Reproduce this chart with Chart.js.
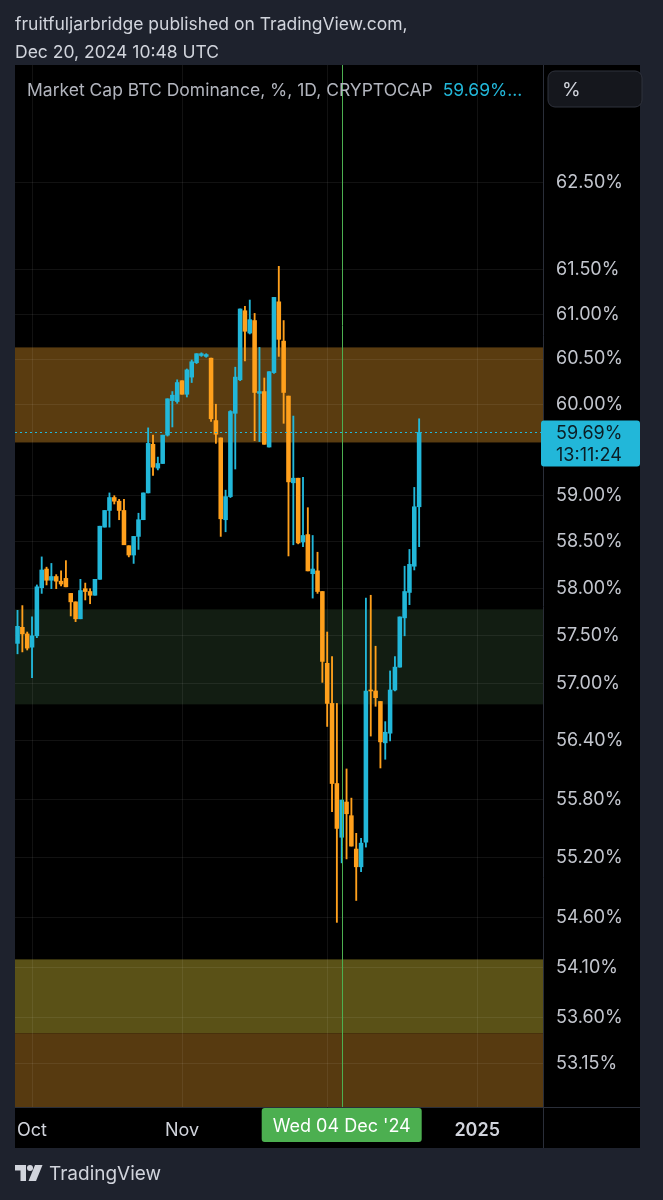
<!DOCTYPE html>
<html>
<head>
<meta charset="utf-8">
<script src="https://cdn.jsdelivr.net/npm/chart.js@4.4.1/dist/chart.umd.min.js"></script>
<style>
html,body{margin:0;padding:0;background:#1e222d;width:663px;height:1200px;overflow:hidden;}
#wrap{position:relative;width:663px;height:1200px;font-family:Inter,'Noto Sans',sans-serif;}
canvas{position:absolute;left:0;top:0;}
.hdr{position:absolute;left:15px;color:#d1d4dc;font-size:17.5px;line-height:22px;white-space:nowrap;z-index:2;}
#foot{position:absolute;left:15px;top:1161px;height:24px;display:flex;align-items:center;color:#d1d4dc;font-size:19px;z-index:2;}
#foot svg{margin-right:6px;}
</style>
</head>
<body>
<div id="wrap">
<div class="hdr" style="top:13px">fruitfuljarbridge published on TradingView.com,</div>
<div class="hdr" style="top:41px">Dec 20, 2024 10:48 UTC</div>
<canvas id="c" width="663" height="1200"></canvas>
<div id="foot"><svg width="28" height="16" viewBox="0 0 28 16"><path d="M0 0h11v16h-5.5v-10.5h-5.5z" fill="#d1d4dc"/><circle cx="15" cy="3" r="3" fill="#d1d4dc"/><path d="M20 0h7.5l-6.5 16h-7.5z" fill="#d1d4dc"/></svg><span>TradingView</span></div>
</div>
<script>
// ---- data ----
const dates = [
'2024-09-28','2024-09-29','2024-09-30',
'2024-10-01','2024-10-02','2024-10-03','2024-10-04','2024-10-05','2024-10-06','2024-10-07','2024-10-08','2024-10-09','2024-10-10',
'2024-10-11','2024-10-12','2024-10-13','2024-10-14','2024-10-15','2024-10-16','2024-10-17','2024-10-18','2024-10-19','2024-10-20',
'2024-10-21','2024-10-22','2024-10-23','2024-10-24','2024-10-25','2024-10-26','2024-10-27','2024-10-28','2024-10-29','2024-10-30','2024-10-31',
'2024-11-01','2024-11-02','2024-11-03','2024-11-04','2024-11-05','2024-11-06','2024-11-07','2024-11-08','2024-11-09','2024-11-10',
'2024-11-11','2024-11-12','2024-11-13','2024-11-14','2024-11-15','2024-11-16','2024-11-17','2024-11-18','2024-11-19','2024-11-20',
'2024-11-21','2024-11-22','2024-11-23','2024-11-24','2024-11-25','2024-11-26','2024-11-27','2024-11-28','2024-11-29','2024-11-30',
'2024-12-01','2024-12-02','2024-12-03','2024-12-04','2024-12-05','2024-12-06','2024-12-07','2024-12-08','2024-12-09','2024-12-10',
'2024-12-11','2024-12-12','2024-12-13','2024-12-14','2024-12-15','2024-12-16','2024-12-17','2024-12-18','2024-12-19','2024-12-20'];

const opens = [57.42,57.59,57.52,57.38,57.50,58.01,58.21,58.09,58.13,58.08,58.11,57.95,57.86,57.68,58.00,57.97,57.93,58.10,58.66,58.84,
58.98,58.94,58.84,58.46,58.36,58.56,58.74,59.03,59.56,59.30,59.35,59.66,60.04,60.03,60.26,60.11,60.30,60.46,60.54,60.53,
60.51,59.82,59.63,58.74,58.99,59.90,60.27,61.04,60.79,60.93,60.12,60.14,59.53,60.35,61.14,60.70,60.09,59.14,59.19,58.50,
58.58,58.16,58.19,57.97,57.21,56.79,55.96,55.41,55.77,55.63,55.29,55.11,55.36,56.93,56.92,56.81,56.38,56.48,56.93,57.17,
57.69,57.96,58.24,58.88];
const highs = [57.77,57.82,57.54,57.70,58.04,58.34,58.23,58.27,58.15,58.19,58.30,57.95,57.86,58.10,58.06,58.00,58.10,58.67,58.84,59.03,
59.00,58.96,58.96,58.46,58.56,58.81,59.03,59.74,59.66,59.42,59.66,60.06,60.14,60.27,60.26,60.39,60.49,60.56,60.57,60.56,
60.51,60.00,59.63,59.06,59.93,60.41,61.06,61.09,61.16,61.01,60.63,60.29,60.36,61.19,61.54,60.93,60.09,59.87,59.19,59.20,
58.87,58.57,58.39,57.97,57.54,57.28,56.79,55.79,56.11,55.81,55.45,55.40,57.90,57.93,57.39,56.81,56.60,57.13,57.28,57.70,
58.24,58.42,59.09,59.84];
const lows = [57.31,57.33,57.35,57.06,57.48,57.95,58.04,58.00,58.00,58.03,58.02,57.71,57.65,57.68,57.88,57.84,57.93,58.10,58.66,58.66,
58.91,58.74,58.47,58.34,58.27,58.42,58.74,59.03,59.22,59.28,59.35,59.65,59.75,60.01,60.11,60.08,60.24,60.45,60.53,60.52,
59.81,59.57,58.56,58.61,58.98,59.29,60.26,60.48,60.78,59.60,59.59,59.56,59.53,60.34,60.53,59.79,58.35,58.47,58.48,58.45,
58.19,57.90,57.95,57.01,56.55,55.67,54.55,55.15,55.19,55.32,54.77,55.06,55.31,56.45,56.76,56.12,56.21,56.40,56.92,57.17,
57.50,57.83,58.20,58.45];
const closes = [57.60,57.52,57.37,57.50,58.02,58.20,58.09,58.13,58.08,58.05,58.02,57.86,57.68,57.98,57.97,57.93,58.10,58.67,58.84,58.98,
58.94,58.84,58.47,58.36,58.56,58.74,59.03,59.57,59.31,59.35,59.66,60.06,60.10,60.24,60.11,60.38,60.47,60.56,60.56,60.55,
59.84,59.67,58.75,58.99,59.92,60.30,61.06,60.81,60.94,60.13,60.14,59.56,60.36,61.19,60.72,60.13,59.15,59.19,58.49,58.57,
58.19,58.21,57.97,57.23,56.79,55.96,55.50,55.79,55.65,55.32,55.11,55.35,56.92,56.92,56.85,56.39,56.49,56.93,57.17,57.70,
57.97,58.26,58.88,59.69];

const yTicks = [62.5,61.5,61,60.5,60,59,58.5,58,57.5,57,56.4,55.8,55.2,54.6,54.1,53.6,53.15];
const xTickDates = ['2024-10-01','2024-11-01','2024-12-01','2025-01-01'];
const xTickLabels = ['Oct','Nov','Dec','2025'];
const zoneTops = [60.63,57.78,54.18,53.45];
const zoneBottoms = [59.58,56.78,53.45,52.0];
const crosshairDate = '2024-12-04';
const crosshairLabel = "Wed 04 Dec '24";
const seriesTitle = 'Market Cap BTC Dominance, %, 1D, CRYPTOCAP';
const countdown = '13:11:24';

// ---- styles ----
const UP = '#22b7d9', DOWN = '#ffa01c';
const zoneColors = ['#5a3c10','#121d12','#5a5117','#573a10'];
const FONT = "Inter, 'Noto Sans', sans-serif";

const DAY = 86400000;
const t0 = Date.parse(dates[0]);
const dayIdx = d => (Date.parse(d) - t0) / DAY;
const xs = dates.map(dayIdx);
const tickXs = xTickDates.map(dayIdx);

const colors = closes.map((c,i) => c >= opens[i] ? UP : DOWN);
const lastClose = closes[closes.length-1];

const deco = {
  id: 'deco',
  beforeDraw(chart) {
    const {ctx, chartArea: a, scales: {y}} = chart;
    ctx.save();
    ctx.fillStyle = '#000';
    ctx.fillRect(a.left, a.top, (a.right + y.width) - a.left, (a.bottom + chart.scales.x.height) - a.top);
    ctx.beginPath();
    ctx.rect(a.left, a.top, a.right - a.left, a.bottom - a.top);
    ctx.clip();
    zoneTops.forEach((t, i) => {
      const y1 = y.getPixelForValue(t), y2 = y.getPixelForValue(zoneBottoms[i]);
      ctx.fillStyle = zoneColors[i];
      ctx.fillRect(a.left, y1, a.right - a.left, y2 - y1);
    });
    ctx.restore();
  },
  afterDatasetsDraw(chart) {
    const {ctx, chartArea: a, scales: {x, y}} = chart;
    ctx.save();
    const py = Math.round(y.getPixelForValue(lastClose)) + 0.5;
    ctx.strokeStyle = UP; ctx.lineWidth = 1; ctx.setLineDash([2, 3]);
    ctx.beginPath(); ctx.moveTo(a.left, py); ctx.lineTo(a.right, py); ctx.stroke();
    ctx.setLineDash([]);
    const cx = Math.round(x.getPixelForValue(dayIdx(crosshairDate))) + 0.5;
    ctx.strokeStyle = '#4caf50';
    ctx.beginPath(); ctx.moveTo(cx, a.top); ctx.lineTo(cx, a.bottom); ctx.stroke();
    ctx.restore();
  },
  afterDraw(chart) {
    const {ctx, chartArea: a, scales: {x, y}} = chart;
    const R = a.right + y.width, B = a.bottom + x.height;
    ctx.save();
    ctx.strokeStyle = '#2a2e39'; ctx.lineWidth = 1;
    ctx.beginPath();
    ctx.moveTo(a.right + 0.5, a.top); ctx.lineTo(a.right + 0.5, B);
    ctx.moveTo(a.left, a.bottom + 0.5); ctx.lineTo(R, a.bottom + 0.5);
    ctx.stroke();
    // legend text
    ctx.font = `17.5px ${FONT}`;
    ctx.textBaseline = 'middle'; ctx.textAlign = 'left';
    ctx.fillStyle = '#b2b5be';
    ctx.fillText(seriesTitle, a.left + 12, a.top + 26);
    const w = ctx.measureText(seriesTitle).width;
    ctx.fillStyle = UP;
    ctx.fillText(lastClose.toFixed(2) + '%...', a.left + 12 + w + 10, a.top + 26);
    // % button
    ctx.fillStyle = '#15171d'; ctx.strokeStyle = '#2f323c';
    ctx.beginPath(); ctx.roundRect(a.right + 5, a.top + 6, R - a.right + 2 - 5, 36, 7); ctx.fill(); ctx.stroke();
    ctx.fillStyle = '#d1d4dc'; ctx.font = `19px ${FONT}`;
    ctx.fillText('%', a.right + 19, a.top + 25);
    // price label
    const py = y.getPixelForValue(lastClose);
    ctx.fillStyle = UP;
    ctx.beginPath(); ctx.roundRect(a.right - 2, py - 12, R - a.right + 2, 46, 3); ctx.fill();
    ctx.fillStyle = '#0b1d24'; ctx.font = `18px ${FONT}`;
    ctx.fillText(lastClose.toFixed(2) + '%', a.right + 13, py + 1);
    ctx.fillText(countdown, a.right + 13, py + 23);
    // crosshair date label
    const cx = x.getPixelForValue(dayIdx(crosshairDate));
    ctx.fillStyle = '#4caf50';
    ctx.beginPath(); ctx.roundRect(cx - 80, a.bottom + 1, 160, 34, 3); ctx.fill();
    ctx.fillStyle = '#ffffff'; ctx.textAlign = 'center'; ctx.font = `18px ${FONT}`;
    ctx.fillText(crosshairLabel, cx, a.bottom + 20);
    ctx.restore();
  }
};

new Chart(document.getElementById('c'), {
  type: 'bar',
  data: {
    datasets: [
      {
        label: 'body',
        data: xs.map((xv, i) => ({x: xv, y: [opens[i], closes[i]]})),
        backgroundColor: colors,
        barThickness: 3.9,
        minBarLength: 1,
        borderWidth: 0,
        grouped: false,
        order: 0
      },
      {
        label: 'wick',
        data: xs.map((xv, i) => ({x: xv, y: [lows[i], highs[i]]})),
        backgroundColor: colors,
        barThickness: 1.2,
        borderWidth: 0,
        grouped: false,
        order: 1
      }
    ]
  },
  options: {
    responsive: false,
    animation: false,
    devicePixelRatio: 1,
    layout: {padding: {left: 15, top: 65, right: 23, bottom: 52}},
    plugins: {legend: {display: false}, tooltip: {enabled: false}},
    scales: {
      x: {
        type: 'linear',
        position: 'bottom',
        min: -0.52,
        max: 108.6,
        bounds: 'data',
        offset: false,
        grid: {offset: false, color: 'rgba(255,255,255,0.07)', drawTicks: false},
        border: {display: false},
        afterBuildTicks: s => { s.ticks = tickXs.map(v => ({value: v})); },
        afterFit: s => { s.height = 41; },
        ticks: {
          autoSkip: false,
          maxRotation: 0,
          padding: 13,
          color: '#d1d4dc',
          font: c => ({family: FONT, size: 18, weight: (c.tick && c.tick.value === tickXs[3]) ? '600' : '400'}),
          callback: v => { const k = tickXs.indexOf(v); return k >= 0 ? xTickLabels[k] : ''; }
        }
      },
      y: {
        type: 'logarithmic',
        position: 'right',
        min: 52.73,
        max: 63.86,
        bounds: 'data',
        grid: {color: 'rgba(255,255,255,0.07)', drawTicks: false},
        border: {display: false},
        afterBuildTicks: s => { s.ticks = yTicks.map(v => ({value: v})); },
        afterFit: s => { s.width = 97; },
        ticks: {
          autoSkip: false,
          padding: 13,
          crossAlign: 'near',
          color: '#c3c6ce',
          font: {family: FONT, size: 18},
          callback: v => Number(v).toFixed(2) + '%'
        }
      }
    }
  },
  plugins: [deco]
});
</script>
</body>
</html>
